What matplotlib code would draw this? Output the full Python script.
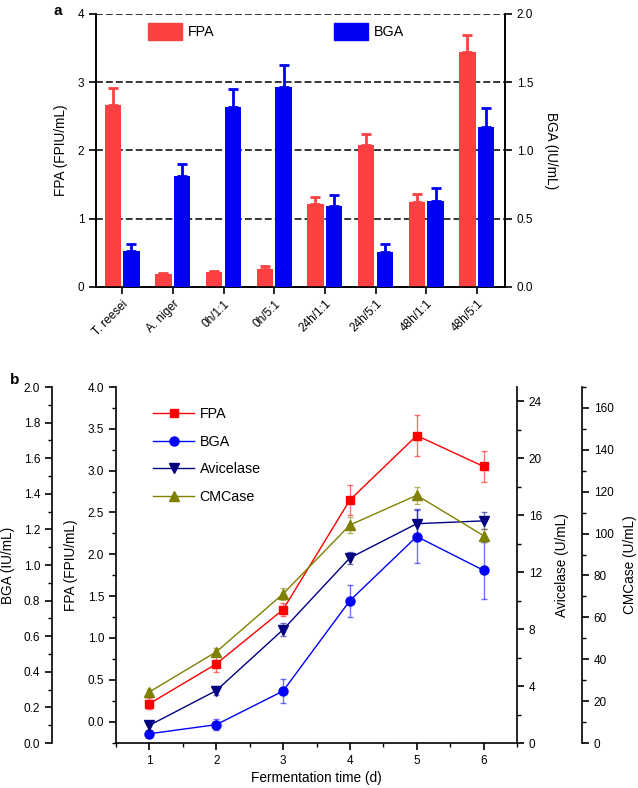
import matplotlib
matplotlib.use("Agg")
import matplotlib.pyplot as plt
from matplotlib.ticker import MultipleLocator, FormatStrFormatter
from matplotlib.lines import Line2D
import numpy as np

plt.rcParams['font.family'] = ['Liberation Sans', 'DejaVu Sans']

# panel a data
groups = ["T. reesei", "A. niger", "0h/1:1", "0h/5:1", "24h/1:1", "24h/5:1", "48h/1:1", "48h/5:1"]
fpa_bar = [2.66, 0.19, 0.22, 0.27, 1.22, 2.08, 1.25, 3.45]
fpa_bar_err = [0.25, 0.02, 0.01, 0.04, 0.10, 0.16, 0.11, 0.24]
bga_bar = [0.266, 0.81, 1.32, 1.465, 0.593, 0.254, 0.628, 1.175]
bga_bar_err = [0.05, 0.09, 0.13, 0.16, 0.08, 0.06, 0.10, 0.14]

# panel b data
days = [1, 2, 3, 4, 5, 6]
fpa = [0.215, 0.69, 1.34, 2.65, 3.42, 3.05]
fpa_err = [0.065, 0.10, 0.08, 0.18, 0.25, 0.19]
bga = [0.052, 0.103, 0.292, 0.80, 1.16, 0.97]
bga_err = [0.01, 0.03, 0.07, 0.09, 0.15, 0.16]
avicelase = [1.24, 3.68, 7.96, 13.0, 15.4, 15.6]
avicelase_err = [0.3, 0.3, 0.45, 0.4, 1.0, 0.6]
cmcase = [24.4, 43.5, 71.2, 104.1, 118.3, 99.0]
cmcase_err = [1.5, 2.0, 3.0, 4.0, 4.0, 3.0]

RED_BAR = '#fb4141'
BLUE_BAR = '#0000f5'
TICK_FS = 8.5
LAB_FS = 9.8

fig = plt.figure(figsize=(6.38, 7.88), dpi=100)

# ---------------- panel a ----------------
ax1 = fig.add_axes([96/638, 1-287/788, 409/638, 273/788])
ax2 = ax1.twinx()
x = np.arange(len(groups))
w = 0.32
ax1.bar(x - 0.19, fpa_bar, w, color=RED_BAR, zorder=3,
        yerr=[np.zeros(len(x)), fpa_bar_err], ecolor=RED_BAR,
        error_kw=dict(elinewidth=2, capsize=3.5, capthick=2))
ax2.bar(x + 0.18, bga_bar, w, color=BLUE_BAR, zorder=3,
        yerr=[np.zeros(len(x)), bga_bar_err], ecolor=BLUE_BAR,
        error_kw=dict(elinewidth=2, capsize=3.5, capthick=2))
ax1.set_xlim(-0.52, 7.55)
ax1.set_ylim(0, 4)
ax2.set_ylim(0, 2)
ax1.set_yticks([0, 1, 2, 3, 4])
ax2.set_yticks([0, 0.5, 1.0, 1.5, 2.0])
ax2.yaxis.set_major_formatter(FormatStrFormatter('%.1f'))
for yv in [1, 2, 3, 4]:
    ax1.axhline(yv, color='black', lw=1.1, ls=(0, (4.5, 2)), zorder=1)
ax1.set_xticks(x)
ax1.set_xticklabels(groups, rotation=45, ha='right', rotation_mode='anchor', fontsize=TICK_FS)
for a in (ax1, ax2):
    a.spines['top'].set_visible(False)
    for s in a.spines.values():
        s.set_linewidth(1.2)
    a.tick_params(labelsize=TICK_FS, width=1.2, length=5, direction='out')
ax1.tick_params(axis='x', pad=3)
ax1.set_ylabel("FPA (FPIU/mL)", fontsize=LAB_FS)
ax1.yaxis.set_label_coords(-28/409, 0.5)
ax2.set_ylabel("BGA (IU/mL)", fontsize=LAB_FS, rotation=270, va='center')
ax2.yaxis.set_label_coords(1 + 46/409, 0.5)
ha = [plt.Rectangle((0, 0), 1, 1, color=RED_BAR), plt.Rectangle((0, 0), 1, 1, color=BLUE_BAR)]
ax2.legend(ha, ['FPA', 'BGA'], ncol=2, frameon=False, loc='upper left',
           bbox_to_anchor=(52/409, 0.967), borderaxespad=0, borderpad=0,
           handlelength=2.35, handleheight=1.45, handletextpad=0.45,
           columnspacing=8.35, fontsize=10.3)
fig.text(53/638, 1-15/788, 'a', fontsize=11, fontweight='bold')

# ---------------- panel b ----------------
ax = fig.add_axes([116/638, 45/788, 401/638, 356/788])
ax_bga = ax.twinx()
ax_av = ax.twinx()
ax_cm = ax.twinx()

def ebar(a, y, e, color, marker, ms):
    a.errorbar(days, y, yerr=e, color=color, marker=marker, ms=ms, lw=1,
               ecolor=matplotlib.colors.to_rgba(color, 0.55), elinewidth=1,
               capsize=2.5, capthick=1)

ebar(ax, fpa, fpa_err, '#ff0000', 's', 6)
ebar(ax_bga, bga, bga_err, '#0000ff', 'o', 6.5)
ebar(ax_av, avicelase, avicelase_err, '#000080', 'v', 7)
ebar(ax_cm, cmcase, cmcase_err, '#808000', '^', 7)

ax.set_xlim(0.5, 6.5)
ax.set_ylim(-0.255, 4.0)
ax_bga.set_ylim(0, 2.0)
ax_av.set_ylim(0, 25)
ax_cm.set_ylim(0, 170)

ax.xaxis.set_major_locator(MultipleLocator(1))
ax.xaxis.set_minor_locator(MultipleLocator(0.5))
ax.yaxis.set_major_locator(MultipleLocator(0.5))
ax.yaxis.set_minor_locator(MultipleLocator(0.25))
ax.yaxis.set_major_formatter(FormatStrFormatter('%.1f'))
ax_bga.yaxis.set_major_locator(MultipleLocator(0.2))
ax_bga.yaxis.set_minor_locator(MultipleLocator(0.1))
ax_bga.yaxis.set_major_formatter(FormatStrFormatter('%.1f'))
ax_av.yaxis.set_major_locator(MultipleLocator(4))
ax_av.yaxis.set_minor_locator(MultipleLocator(2))
ax_cm.yaxis.set_major_locator(MultipleLocator(20))
ax_cm.yaxis.set_minor_locator(MultipleLocator(10))

for a in (ax, ax_bga, ax_av, ax_cm):
    for s in a.spines.values():
        s.set_visible(False)
        s.set_linewidth(1.2)
    a.tick_params(which='major', labelsize=TICK_FS, width=1.2, length=5, direction='out')
    a.tick_params(which='minor', width=1.0, length=3, direction='out')

ax.spines['left'].set_visible(True)
ax.spines['bottom'].set_visible(True)
ax.tick_params(axis='y', which='both', right=False)
ax.tick_params(axis='x', which='both', top=False)

ax_bga.spines['left'].set_visible(True)
ax_bga.spines['left'].set_position(('axes', -64/401))
ax_bga.yaxis.tick_left()
ax_bga.yaxis.set_label_position('left')

ax_av.spines['right'].set_visible(True)
ax_cm.spines['right'].set_visible(True)
ax_cm.spines['right'].set_position(('axes', 466/401))

ax.set_xlabel("Fermentation time (d)", fontsize=LAB_FS)
ax.xaxis.set_label_coords(0.5, -28/356)
ax.set_ylabel("FPA (FPIU/mL)", fontsize=LAB_FS)
ax.yaxis.set_label_coords(-38/401, 0.5)
ax_bga.set_ylabel("BGA (IU/mL)", fontsize=LAB_FS)
ax_bga.yaxis.set_label_coords(-101/401, 0.5)
ax_av.set_ylabel("Avicelase (U/mL)", fontsize=LAB_FS, rotation=90)
ax_av.yaxis.set_label_coords(1 + 38/401, 0.5)
ax_cm.set_ylabel("CMCase (U/mL)", fontsize=LAB_FS, rotation=90)
ax_cm.yaxis.set_label_coords(1 + 106/401, 0.5)

handles = [Line2D([], [], color='#ff0000', marker='s', ms=6, lw=1),
           Line2D([], [], color='#0000ff', marker='o', ms=6.5, lw=1),
           Line2D([], [], color='#000080', marker='v', ms=7, lw=1),
           Line2D([], [], color='#808000', marker='^', ms=7, lw=1)]
ax_cm.legend(handles, ['FPA', 'BGA', 'Avicelase', 'CMCase'], frameon=False,
             loc='upper left', bbox_to_anchor=(37/401, 0.944), borderaxespad=0,
             borderpad=0, handlelength=2.9, handletextpad=0.35,
             labelspacing=0.95, fontsize=10.3)
fig.text(10/638, 1-384/788, 'b', fontsize=11, fontweight='bold')

fig.savefig('out.png', dpi=100)
